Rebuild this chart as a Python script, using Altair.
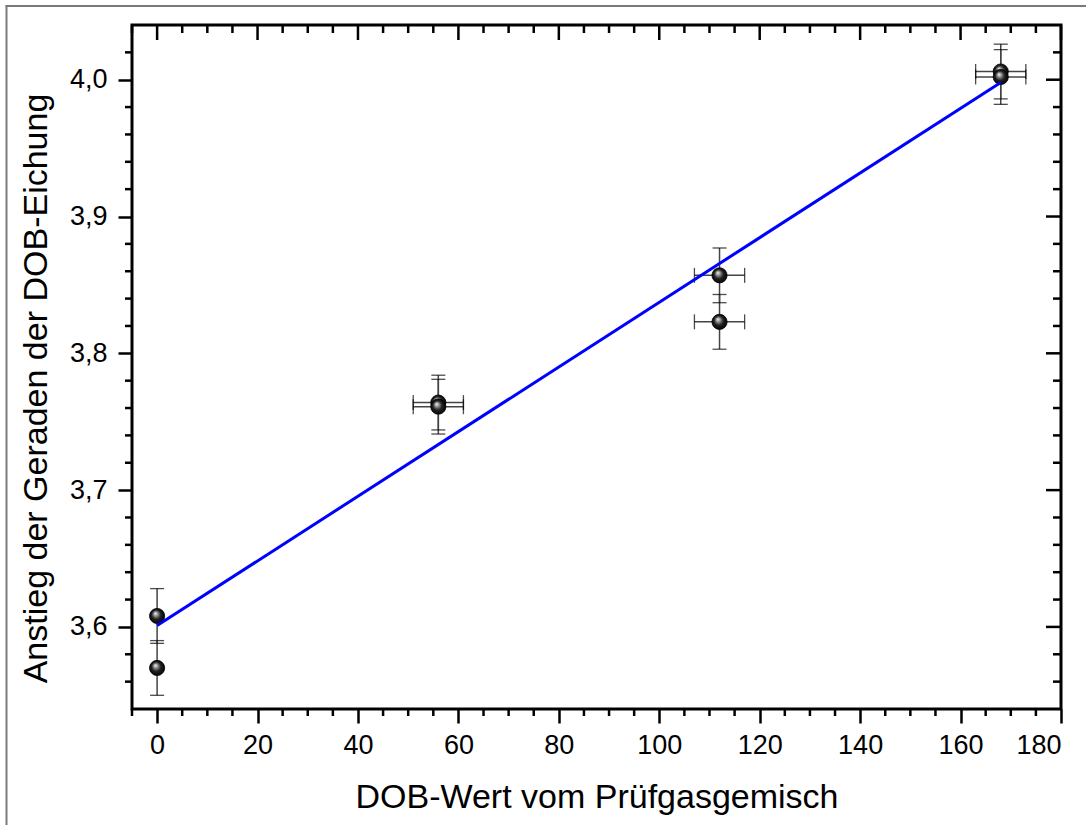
import altair as alt
import pandas as pd

# ---- data ----
x_vals = [0, 0, 56, 56, 112, 112, 168, 168]
y_vals = [3.608, 3.570, 3.764, 3.761, 3.857, 3.823, 4.006, 4.002]
x_err = [0, 0, 5, 5, 5, 5, 5, 5]
y_err = [0.02, 0.02, 0.02, 0.02, 0.02, 0.02, 0.02, 0.02]

fit_x = [0, 168]
fit_y = [3.601, 3.998]

x_major = [0, 20, 40, 60, 80, 100, 120, 140, 160, 180]
x_minor = [-5, 5, 10, 15, 25, 30, 35, 45, 50, 55, 65, 70, 75, 85, 90, 95,
           105, 110, 115, 125, 130, 135, 145, 150, 155, 165, 170, 175]
y_major = [3.6, 3.7, 3.8, 3.9, 4.0]
y_minor = [3.56, 3.58, 3.62, 3.64, 3.66, 3.68, 3.72, 3.74, 3.76, 3.78,
           3.82, 3.84, 3.86, 3.88, 3.92, 3.94, 3.96, 3.98, 4.02]

W, H = 929, 684
FONT = "Liberation Sans"

pts = pd.DataFrame({"x": x_vals, "y": y_vals, "xe": x_err, "ye": y_err})
pts["xlo"] = pts["x"] - pts["xe"]
pts["xhi"] = pts["x"] + pts["xe"]
pts["ylo"] = pts["y"] - pts["ye"]
pts["yhi"] = pts["y"] + pts["ye"]
pts_x = pts[pts["xe"] > 0]
fit = pd.DataFrame({"x": fit_x, "y": fit_y})

xscale = alt.Scale(domain=[-5, 180], nice=False, zero=False)
yscale = alt.Scale(domain=[3.54, 4.04], nice=False, zero=False)

xaxis = alt.Axis(values=x_major, tickSize=14, tickWidth=2.5, tickColor="black",
                 labelFont=FONT, labelFontSize=27, labelColor="black", labelPadding=9,
                 domain=False, grid=False, title="DOB-Wert vom Prüfgasgemisch",
                 titleFont=FONT, titleFontSize=34, titleFontWeight="normal",
                 titleColor="black", titlePadding=22)
yaxis = alt.Axis(values=y_major, tickSize=14, tickWidth=2.5, tickColor="black",
                 labelFont=FONT, labelFontSize=27, labelColor="black", labelPadding=11,
                 labelExpr="replace(format(datum.value, '.1f'), '.', ',')",
                 domain=False, grid=False, title="Anstieg der Geraden der DOB-Eichung",
                 titleFont=FONT, titleFontSize=34, titleFontWeight="normal",
                 titleColor="black", titlePadding=16, titleY=H / 2 + 21)


def X(f):
    return alt.X(f, type="quantitative", scale=xscale, axis=xaxis)


def Y(f):
    return alt.Y(f, type="quantitative", scale=yscale, axis=yaxis)


base = alt.Chart(pts)

# error bars
ybars = base.mark_rule(color="#444444", strokeWidth=1.5).encode(x=X("x"), y=Y("ylo"), y2="yhi")
xbars = alt.Chart(pts_x).mark_rule(color="#444444", strokeWidth=1.5).encode(x=X("xlo"), x2="xhi", y=Y("y"))
ycap_lo = base.mark_tick(orient="horizontal", size=14, thickness=1.3, color="black").encode(x=X("x"), y=Y("ylo"))
ycap_hi = base.mark_tick(orient="horizontal", size=14, thickness=1.3, color="black").encode(x=X("x"), y=Y("yhi"))
xcap_lo = alt.Chart(pts_x).mark_tick(orient="vertical", size=15, thickness=1.3, color="black").encode(x=X("xlo"), y=Y("y"))
xcap_hi = alt.Chart(pts_x).mark_tick(orient="vertical", size=15, thickness=1.3, color="black").encode(x=X("xhi"), y=Y("y"))

sphere = alt.RadialGradient(
    gradient="radial",
    x1=0.38, y1=0.32, r1=0.0,
    x2=0.5, y2=0.5, r2=0.55,
    stops=[
        alt.GradientStop(color="#ffffff", offset=0.0),
        alt.GradientStop(color="#a8a8a8", offset=0.2),
        alt.GradientStop(color="#222222", offset=0.55),
        alt.GradientStop(color="#000000", offset=1.0),
    ],
)
points = base.mark_point(filled=True, fill=sphere, stroke="black", strokeWidth=0.8,
                         size=230, opacity=1, shape="circle").encode(x=X("x"), y=Y("y"))

line = alt.Chart(fit).mark_line(color="#0000ff", strokeWidth=3).encode(x=X("x"), y=Y("y"))

# mirrored / minor ticks
xmin_df = pd.DataFrame({"t": x_minor})
xmaj_df = pd.DataFrame({"t": x_major})
ymin_df = pd.DataFrame({"t": y_minor})
ymaj_df = pd.DataFrame({"t": y_major})

tick_style = dict(color="black", strokeWidth=2.5)
bottom_minor = alt.Chart(xmin_df).mark_rule(**tick_style).encode(x=X("t"), y=alt.value(H), y2=alt.value(H + 7))
top_minor = alt.Chart(xmin_df).mark_rule(**tick_style).encode(x=X("t"), y=alt.value(0), y2=alt.value(8))
top_major = alt.Chart(xmaj_df).mark_rule(**tick_style).encode(x=X("t"), y=alt.value(0), y2=alt.value(15))
left_minor = alt.Chart(ymin_df).mark_rule(**tick_style).encode(y=Y("t"), x=alt.value(0), x2=alt.value(-7))
right_minor = alt.Chart(ymin_df).mark_rule(**tick_style).encode(y=Y("t"), x=alt.value(W), x2=alt.value(W - 8))
right_major = alt.Chart(ymaj_df).mark_rule(**tick_style).encode(y=Y("t"), x=alt.value(W), x2=alt.value(W - 15))

# outer grey page frame (decoration)
frame_df = pd.DataFrame({"k": [0]})
frame_left = alt.Chart(frame_df).mark_rule(color="#7a7a7a", strokeWidth=2).encode(
    x=alt.value(-125.5), y=alt.value(-19.5), y2=alt.value(H + 150))
frame_top = alt.Chart(frame_df).mark_rule(color="#7a7a7a", strokeWidth=2).encode(
    x=alt.value(-126.5), x2=alt.value(W + 40), y=alt.value(-19))

chart = alt.layer(
    frame_left, frame_top,
    bottom_minor, top_minor, top_major, left_minor, right_minor, right_major,
    ybars, xbars, ycap_lo, ycap_hi, xcap_lo, xcap_hi,
    points, line,
).properties(
    width=W, height=H,
    autosize=alt.AutoSizeParams(type="none"),
    padding={"left": 132, "top": 25, "right": 25, "bottom": 116},
    background="white",
).configure_view(stroke="black", strokeWidth=3)

chart.save("out.html", embed_options={"renderer": "svg", "actions": False})
